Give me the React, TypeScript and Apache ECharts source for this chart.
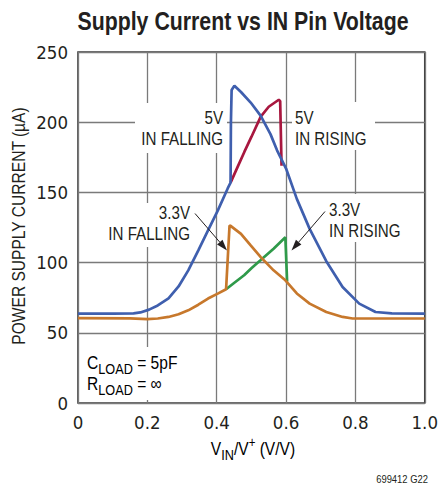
import React, { useEffect, useRef } from "react";
import * as echarts from "echarts";

const FONT = "'Liberation Sans', Arial, sans-serif";
const TICK_FONT = "'DejaVu Sans Condensed', 'Liberation Sans', sans-serif";
const TEXT = "#231f20";
const NARROW = 0.82;

const xTicks = [0, 0.2, 0.4, 0.6, 0.8, 1.0];
const yTicks = [0, 50, 100, 150, 200, 250];

// 5V, IN falling (blue)
const blue5VFalling: number[][] = [
  [0, 63.7], [0.1, 63.7], [0.16, 63.8], [0.18, 64.5], [0.205, 66.5], [0.23, 69.5],
  [0.261, 74.5], [0.29, 83], [0.318, 94.5], [0.347, 108.7], [0.375, 122.9], [0.403, 137],
  [0.432, 153], [0.44, 157], [0.441, 200], [0.443, 223], [0.451, 226], [0.47, 221.5],
  [0.498, 214], [0.527, 204.5], [0.555, 191.5], [0.574, 180], [0.6, 167], [0.631, 145.4],
  [0.668, 124], [0.716, 101], [0.763, 82.6], [0.811, 70.8], [0.858, 64.8], [0.905, 63.8], [1, 63.7],
];
// 5V, IN rising (red) — branch that differs from the falling curve
const red5VRising: number[][] = [
  [0.44, 157], [0.46, 168], [0.48, 179], [0.5, 189.5], [0.527, 204], [0.55, 211],
  [0.579, 216], [0.583, 215], [0.587, 169],
];
// 3.3V, IN falling (orange)
const orange33VFalling: number[][] = [
  [0, 60.4], [0.15, 60.3], [0.2, 59.8], [0.23, 60.2], [0.261, 61.3], [0.29, 63.2],
  [0.318, 66], [0.347, 70], [0.375, 74.4], [0.403, 77.9], [0.427, 81], [0.437, 126.4],
  [0.44, 126.2], [0.47, 120.5], [0.498, 112.2], [0.527, 103.9], [0.564, 94.5], [0.598, 87.4],
  [0.631, 78], [0.668, 70.8], [0.716, 64.8], [0.763, 61.3], [0.792, 60.2], [1, 60.2],
];
// 3.3V, IN rising (green) — branch that differs from the falling curve
const green33VRising: number[][] = [
  [0.427, 81], [0.45, 85.5], [0.479, 91], [0.5, 96], [0.527, 101.8], [0.564, 109.9],
  [0.598, 118], [0.603, 86.5],
];

function arrow(x1: number, y1: number, x2: number, y2: number) {
  const dx = x2 - x1, dy = y2 - y1;
  const len = Math.sqrt(dx * dx + dy * dy);
  const ux = dx / len, uy = dy / len;
  const hl = 11, hw = 3.6;
  const bx = x2 - ux * hl, by = y2 - uy * hl;
  return [
    { type: "line", z: 120, shape: { x1, y1, x2: bx, y2: by }, style: { stroke: "#231f20", lineWidth: 1 } },
    {
      type: "polygon", z: 120,
      shape: { points: [[x2, y2], [bx - uy * hw, by + ux * hw], [bx + uy * hw, by - ux * hw]] },
      style: { fill: "#231f20" },
    },
  ];
}

function bg(x: number, y: number, w: number, h: number) {
  return { type: "rect", z: 100, shape: { x, y, width: w, height: h }, style: { fill: "#fff" } };
}

function label(x: number, y: number, text: string, align: string, size = 18.5, weight = "normal") {
  return {
    type: "text", z: 110, x, y, scaleX: NARROW,
    style: { text, font: `${weight} ${size}px ${FONT}`, fill: TEXT, align, verticalAlign: "middle" },
  };
}

const subRich = {
  n: { fontSize: 19, fontFamily: FONT, color: TEXT, lineHeight: 20, verticalAlign: "middle" },
  s: { fontSize: 15.5, fontFamily: FONT, color: TEXT, lineHeight: 14, verticalAlign: "bottom", padding: [0, 0, -5, 0] },
  p: { fontSize: 14, fontFamily: FONT, color: TEXT, lineHeight: 12, verticalAlign: "top", padding: [-3, 0, 0, 0] },
};

export default function App() {
  const ref = useRef<HTMLDivElement>(null);
  useEffect(() => {
    if (!ref.current) return;
    const chart = echarts.init(ref.current, undefined, { renderer: "svg" });
    const line = (name: string, data: number[][], color: string, z: number) => ({
      name, type: "line", data, showSymbol: false, z,
      lineStyle: { color, width: 2.7 }, itemStyle: { color },
    });
    chart.setOption({
      animation: false,
      backgroundColor: "#fff",
      grid: { left: 78, right: 12, top: 52, bottom: 86, show: true, borderColor: "#3a3a3a", borderWidth: 1.6, backgroundColor: "transparent" },
      xAxis: {
        type: "value", min: xTicks[0], max: xTicks[xTicks.length - 1], interval: 0.2,
        axisLine: { show: false }, axisTick: { show: false },
        splitLine: { show: true, lineStyle: { color: "#7a7a7a", width: 1.3 } },
        axisLabel: {
          margin: 10, fontFamily: TICK_FONT, fontSize: 18.5, color: TEXT,
          formatter: (v: number) => (v === 0 ? "0" : v.toFixed(1)),
        },
      },
      yAxis: {
        type: "value", min: yTicks[0], max: yTicks[yTicks.length - 1], interval: 50,
        axisLine: { show: false }, axisTick: { show: false },
        splitLine: { show: true, lineStyle: { color: "#7a7a7a", width: 1.3 } },
        axisLabel: { margin: 10, fontFamily: TICK_FONT, fontSize: 18.5, color: TEXT },
      },
      series: [
        line("5V IN RISING", red5VRising, "#a8173f", 2),
        line("5V IN FALLING", blue5VFalling, "#3f5fae", 3),
        line("3.3V IN RISING", green33VRising, "#2f9a4a", 4),
        line("3.3V IN FALLING", orange33VFalling, "#c7782c", 5),
      ],
      graphic: [
        label(243, 21, "Supply Current vs IN Pin Voltage", "center", 26, "bold"),
        bg(135, 103, 92, 50),
        bg(292, 102, 83, 48),
        bg(100, 203, 93, 44),
        bg(326, 194, 81, 48),
        bg(83, 347, 99, 53),
        label(223, 118, "5V", "right"),
        label(223, 139, "IN FALLING", "right"),
        label(295, 118, "5V", "left"),
        label(295, 139, "IN RISING", "left"),
        label(190, 213, "3.3V", "right"),
        label(190, 234, "IN FALLING", "right"),
        label(329, 210, "3.3V", "left"),
        label(329, 231, "IN RISING", "left"),
        ...arrow(195, 213.5, 227, 250.5),
        ...arrow(325, 211.5, 291.5, 250.5),
        {
          type: "text", z: 110, x: 87, y: 362, scaleX: NARROW,
          style: { text: "{n|C}{s|LOAD}{n| = 5pF}", rich: subRich, verticalAlign: "middle", align: "left" },
        },
        {
          type: "text", z: 110, x: 87, y: 383, scaleX: NARROW,
          style: { text: "{n|R}{s|LOAD}{n| = ∞}", rich: subRich, verticalAlign: "middle", align: "left" },
        },
        {
          type: "text", z: 110, x: 253, y: 448, scaleX: NARROW,
          style: { text: "{n|V}{s|IN}{n|/V}{p|+}{n| (V/V)}", rich: subRich, verticalAlign: "middle", align: "center" },
        },
        {
          type: "text", z: 110, x: 18, y: 226, rotation: Math.PI / 2, scaleX: NARROW,
          style: { text: "POWER SUPPLY CURRENT (µA)", font: `19px ${FONT}`, fill: TEXT, align: "center", verticalAlign: "middle" },
        },
        label(428, 479, "699412 G22", "right", 11.5),
      ],
    });
    return () => chart.dispose();
  }, []);
  return <div ref={ref} style={{ width: 441, height: 489, position: "absolute", left: 0, top: 0 }} />;
}
